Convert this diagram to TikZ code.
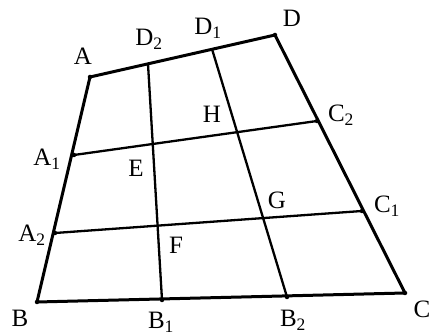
\documentclass[tikz,border=0pt]{standalone}
\usepackage{fontspec}
\setmainfont{Liberation Serif}
\usetikzlibrary{positioning}

\begin{document}
\begin{tikzpicture}[x=1pt, y=-1pt,
  side/.style={line width=3pt, line join=round, line cap=round},
  cut/.style={line width=2.3pt},
  lab/.style={font=\fontsize{25}{27}\selectfont, inner sep=0pt},
  dot/.style={circle, fill, inner sep=0pt, minimum size=4.5pt},
]
  \useasboundingbox (0,0) rectangle (440,336);

  % corners of the quadrilateral
  \coordinate (A) at (90,77);
  \coordinate (D) at (275,35);
  \coordinate (C) at (405,293);
  \coordinate (B) at (37,302);

  % points dividing the sides
  \coordinate (D2) at (148,64);
  \coordinate (D1) at (212,49);
  \coordinate (C2) at (317,121);
  \coordinate (C1) at (362,211);
  \coordinate (B2) at (287,297);
  \coordinate (B1) at (162,300);
  \coordinate (A2) at (55,233);
  \coordinate (A1) at (74,155);

  % outline
  \draw[side] (A) -- (D) -- (C) -- (B) -- cycle;

  % dividing lines
  \draw[cut] (D2) -- (B1);
  \draw[cut] (D1) -- (B2);
  \draw[cut] (A1) -- (C2);
  \draw[cut] (A2) -- (C1);

  % small dots on the sides
  \foreach \p in {A,D,C,B,C2,C1,B2,B1,A2,A1}
    \node[dot] at (\p) {};

  % labels
  \node[lab] (lA)  at (83,56)   {A};
  \node[lab] (lD2) at (149,39)  {D\textsubscript{2}};
  \node[lab] (lD1) at (208,28)  {D\textsubscript{1}};
  \node[lab] (lD)  at (292,18)  {D};
  \node[lab] (lH)  at (212,114) {H};
  \node[lab] (lC2) at (341,115) {C\textsubscript{2}};
  \node[lab] (lA1) at (47,159)  {A\textsubscript{1}};
  \node[lab] (lE)  at (136,168) {E};
  \node[lab] (lA2) at (32,235)  {A\textsubscript{2}};
  \node[lab] (lF)  at (176,245) {F};
  \node[lab] (lG)  at (277,200) {G};
  \node[lab] (lC1) at (387,206) {C\textsubscript{1}};
  \node[lab] (lB)  at (20,318)  {B};
  \node[lab] (lB1) at (161,322) {B\textsubscript{1}};
  \node[lab] (lB2) at (293,320) {B\textsubscript{2}};
  \node[lab] (lC)  at (422,309) {C};
\end{tikzpicture}
\end{document}
